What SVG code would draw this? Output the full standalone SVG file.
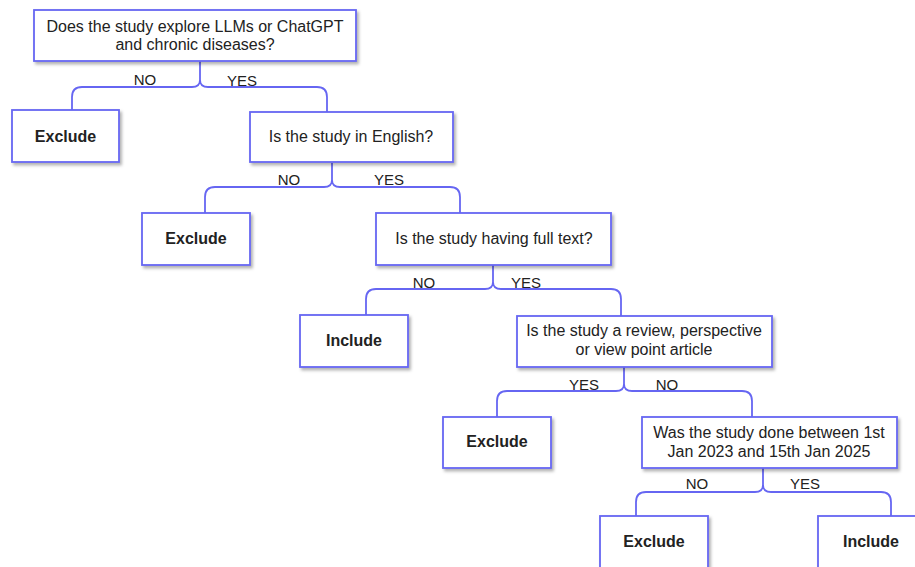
<svg xmlns="http://www.w3.org/2000/svg" width="915" height="567" viewBox="0 0 915 567">
<defs>
<filter id="sh" x="-10%" y="-10%" width="130%" height="140%">
<feDropShadow dx="2" dy="2.5" stdDeviation="1.5" flood-color="#000" flood-opacity="0.3"/>
</filter>
<style>
.box{fill:#fff;stroke:#6666f2;stroke-width:1.8;filter:url(#sh)}
.t{font-family:"Liberation Sans",Arial,sans-serif;font-size:16px;fill:#222;text-anchor:middle}
.b{font-weight:bold}
.lbl{font-family:"Liberation Sans",Arial,sans-serif;font-size:15px;fill:#222;text-anchor:middle}
.c{fill:none;stroke:#6666f2;stroke-width:1.8}
</style>
</defs>
<rect width="915" height="567" fill="#fff"/>
<g id="connectors">
<path class="c" d="M200 61 V80 Q200 87 192 87 H82 Q72 87 72 97 V110 M200 80 Q200 87 208 87 H317 Q327 87 327 97 V112"/>
<path class="c" d="M332 163 V180 Q332 187 324 187 H215 Q205 187 205 197 V213 M332 180 Q332 187 340 187 H450 Q460 187 460 197 V213"/>
<path class="c" d="M493 265 V282 Q493 289 485 289 H376 Q366 289 366 299 V315 M493 282 Q493 289 501 289 H611 Q621 289 621 299 V316"/>
<path class="c" d="M624 367 V384 Q624 391 616 391 H507 Q497 391 497 401 V417 M624 384 Q624 391 632 391 H742 Q752 391 752 401 V417"/>
<path class="c" d="M763 468 V485 Q763 492 755 492 H646 Q636 492 636 502 V516 M763 485 Q763 492 771 492 H881 Q891 492 891 502 V516"/>
<text class="lbl" x="145" y="85">NO</text>
<text class="lbl" x="242" y="86">YES</text>
<text class="lbl" x="289" y="185">NO</text>
<text class="lbl" x="389" y="185">YES</text>
<text class="lbl" x="424" y="288">NO</text>
<text class="lbl" x="526" y="288">YES</text>
<text class="lbl" x="584" y="390">YES</text>
<text class="lbl" x="667" y="390">NO</text>
<text class="lbl" x="697" y="489">NO</text>
<text class="lbl" x="805" y="489">YES</text>
</g>
<g id="q1"><rect class="box" x="34" y="10" width="322" height="51"/>
<text class="t" x="195" y="32">Does the study explore LLMs or ChatGPT</text>
<text class="t" x="195" y="50">and chronic diseases?</text></g>
<g id="exclude1"><rect class="box" x="12" y="110" width="107" height="52"/>
<text class="t b" x="65.5" y="142">Exclude</text></g>
<g id="q2"><rect class="box" x="250" y="112" width="203" height="50"/>
<text class="t" x="351" y="142">Is the study in English?</text></g>
<g id="exclude2"><rect class="box" x="142" y="213" width="108" height="52"/>
<text class="t b" x="196" y="244">Exclude</text></g>
<g id="q3"><rect class="box" x="376" y="213" width="235" height="52"/>
<text class="t" x="494" y="244">Is the study having full text?</text></g>
<g id="include1"><rect class="box" x="300" y="315" width="108" height="52"/>
<text class="t b" x="354" y="346">Include</text></g>
<g id="q4"><rect class="box" x="517" y="316" width="255" height="51"/>
<text class="t" x="644" y="336">Is the study a review, perspective</text>
<text class="t" x="644" y="355">or view point article</text></g>
<g id="exclude3"><rect class="box" x="443" y="417" width="108" height="51"/>
<text class="t b" x="497" y="447">Exclude</text></g>
<g id="q5"><rect class="box" x="642" y="417" width="255" height="51"/>
<text class="t" x="769" y="438">Was the study done between 1st</text>
<text class="t" x="769" y="457">Jan 2023 and 15th Jan 2025</text></g>
<g id="exclude4"><rect class="box" x="600" y="516" width="108" height="52"/>
<text class="t b" x="654" y="547">Exclude</text></g>
<g id="include2"><rect class="box" x="818" y="516" width="108" height="52"/>
<text class="t b" x="871" y="547">Include</text></g>
</svg>
